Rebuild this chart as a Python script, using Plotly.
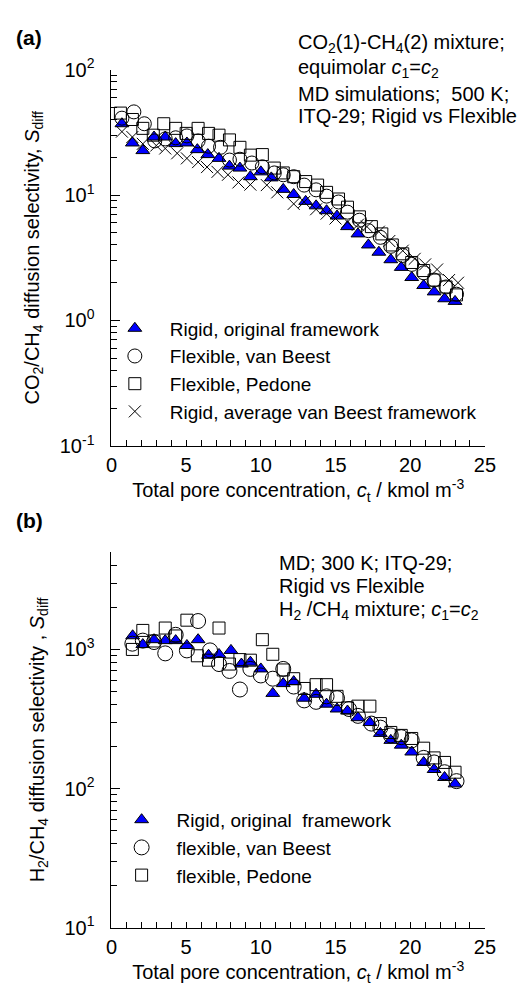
import plotly.graph_objects as go

# ---------------- (a) CO2/CH4, 500 K ----------------
a_tri_x = [0.7, 1.4, 2.1, 2.85, 3.6, 4.3, 5.05, 5.75, 6.45, 7.2, 7.9, 8.6, 9.3, 10.0, 10.7, 11.5,
           12.2, 13.0, 13.7, 14.4, 15.1, 15.8, 16.5, 17.2, 17.9, 18.7, 19.4, 20.1, 20.9, 21.6, 22.3, 23.0]
a_tri_y = [37, 26, 22.6, 29, 29, 25.7, 26, 23, 21, 19.6, 17, 16.4, 14, 15.3, 13.7, 11.1,
           10.1, 8.9, 8.2, 7.5, 6.8, 5.6, 4.9, 4.0, 3.5, 3.05, 2.65, 2.2, 1.9, 1.69, 1.49, 1.42]

a_cir_x = [0.7, 1.5, 2.2, 2.9, 3.6, 4.3, 5.05, 5.8, 6.5, 7.3, 7.9, 8.6, 9.4, 10.1, 10.9, 11.5,
           12.2, 12.9, 13.7, 14.4, 15.2, 15.8, 16.6, 17.2, 18.0, 18.7, 19.5, 20.1, 20.9, 21.6, 22.4, 23.1]
a_cir_y = [41, 46, 37, 27, 28, 28.6, 29.6, 27, 24.5, 24, 19, 19.3, 18, 16.8, 15, 14.5,
           14, 12, 11, 9.8, 8.8, 7.3, 6.3, 5.2, 4.6, 3.9, 3.3, 2.8, 2.4, 2.1, 1.85, 1.62]

a_sq_x = [0.6, 1.4, 2.1, 2.8, 3.5, 4.3, 5.0, 5.8, 6.5, 7.2, 7.9, 8.6, 9.3, 10.1, 10.9, 11.5,
          12.2, 13.0, 13.8, 14.4, 15.2, 15.8, 16.6, 17.4, 18.1, 18.8, 19.5, 20.1, 20.9, 21.6, 22.4, 23.1]
a_sq_y = [45, 40, 34, 30, 37, 34, 31, 34, 31, 30, 27.5, 24, 20.8, 21, 16.4, 15,
          14, 12.8, 12, 10.5, 9.3, 8.0, 6.7, 5.6, 4.9, 4.0, 3.4, 2.9, 2.5, 2.1, 1.85, 1.6]

a_x_x = [0.7, 1.4, 2.1, 3.0, 3.6, 4.4, 5.05, 5.8, 6.4, 7.1, 7.8, 8.5, 9.3, 10.4, 11.1, 12.2,
         12.9, 13.7, 14.4, 15.0, 15.8, 16.5, 17.1, 17.9, 18.6, 19.5, 20.3, 21.0, 21.8, 22.6, 23.2]
a_x_y = [32, 29, 25.6, 24.8, 23.5, 21.5, 19.6, 18.3, 16.7, 15.3, 14.5, 12.6, 12.1, 12, 10.5, 8.5,
         8.8, 7.7, 7.1, 6.5, 6.1, 5.8, 5.6, 5.1, 4.3, 3.6, 3.1, 2.8, 2.55, 2.1, 2.0]

# ---------------- (b) H2/CH4, 300 K ----------------
b_tri_x = [1.42, 2.1, 2.85, 3.6, 4.3, 5.05, 5.8, 6.5, 7.2, 8.0, 8.7, 9.3, 10.0, 10.8, 11.5, 12.2,
           12.9, 13.7, 14.4, 15.1, 15.8, 16.5, 17.3, 18.0, 18.7, 19.4, 20.1, 20.9, 21.6, 22.3, 23.0]
b_tri_y = [1254, 1084, 1175, 1157, 1157, 1067, 1175, 908, 920, 984, 785, 810, 724, 483, 568, 587,
           446, 476, 404, 373, 361, 323, 298, 249, 222, 205, 183, 154, 137, 120, 108]

b_cir_x = [1.4, 2.1, 2.85, 3.6, 4.3, 5.05, 5.8, 6.6, 7.2, 7.9, 8.6, 9.3, 10.0, 10.8, 11.5, 12.2,
           12.9, 13.7, 14.4, 15.1, 15.9, 16.5, 17.4, 18.0, 18.7, 19.4, 20.1, 20.9, 21.6, 22.3, 23.1]
b_cir_y = [1100, 1157, 1130, 937, 1274, 984, 1600, 984, 785, 700, 515, 724, 650, 616, 724, 541,
           430, 420, 460, 446, 373, 333, 293, 274, 241, 234, 222, 166, 154, 131, 113]

b_sq_x = [1.4, 2.1, 2.85, 3.6, 4.3, 5.05, 5.75, 6.5, 7.2, 7.9, 8.6, 9.3, 10.1, 10.8, 11.5, 12.2,
          12.9, 13.7, 14.4, 15.1, 15.8, 16.5, 17.3, 18.0, 18.7, 19.4, 20.1, 20.9, 21.6, 22.3, 23.0]
b_sq_y = [1000, 1370, 1150, 1425, 1250, 1623, 900, 837, 1425, 785, 845, 837, 1175, 923, 712, 616,
          524, 558, 558, 460, 380, 391, 391, 293, 253, 241, 229, 195, 166, 154, 131]

x_ticks = [0, 5, 10, 15, 20, 25]
a_yticks = [0.1, 1, 10, 100]
a_ytext = ["10<sup>-1</sup>", "10<sup>0</sup>", "10<sup>1</sup>", "10<sup>2</sup>"]
b_yticks = [10, 100, 1000]
b_ytext = ["10<sup>1</sup>", "10<sup>2</sup>", "10<sup>3</sup>"]

FONT = "Liberation Sans, Arial, sans-serif"
BLUE = "rgb(0,0,255)"
W, H = 523, 1001
FS = 20   # titles / notes
LFS = 19  # legend

fig = go.Figure()

def add(x, y, name, sym, size, fill, xa, ya, legend, col="black"):
    fig.add_trace(go.Scatter(
        x=x, y=y, name=name, mode="markers", xaxis=xa, yaxis=ya, legend=legend,
        legendgroup=name + legend,
        marker=dict(symbol=sym, size=size, color=fill,
                    line=dict(color=col, width=1)),
    ))

# (a)
add(a_tri_x, a_tri_y, "Rigid, original framework", "triangle-up", 12, BLUE, "x", "y", "legend")
add(a_cir_x, a_cir_y, "Flexible, van Beest", "circle-open", 14, "black", "x", "y", "legend")
add(a_sq_x, a_sq_y, "Flexible, Pedone", "square-open", 12, "black", "x", "y", "legend")
add(a_x_x, a_x_y, "Rigid, average van Beest framework", "x-thin-open", 12, "black", "x", "y", "legend")
# (b)
add(b_tri_x, b_tri_y, "Rigid, original  framework", "triangle-up", 12, BLUE, "x2", "y2", "legend2")
add(b_cir_x, b_cir_y, "flexible, van Beest", "circle-open", 15, "black", "x2", "y2", "legend2")
add(b_sq_x, b_sq_y, "flexible, Pedone", "square-open", 12, "black", "x2", "y2", "legend2")

xl, xr = 109 / W, 495 / W
def py(p):
    return 1 - p / H

xax = dict(range=[0, 25], tickvals=x_ticks, ticks="inside", ticklen=6, tickcolor="black",
           showline=True, linecolor="black", linewidth=1, showgrid=False, zeroline=False,
           minor=dict(dtick=1, ticks="inside", ticklen=6, tickcolor="black", showgrid=False),
           tickfont=dict(size=FS, color="black", family=FONT), domain=[xl, xr],
           ticklabelstandoff=1,
           title=dict(text="Total pore concentration, <i>c</i><sub>t</sub> / kmol m<sup>-3</sup>",
                      font=dict(size=FS, color="black", family=FONT), standoff=6))
yax = dict(type="log", ticks="inside", ticklen=9, tickcolor="black",
           showline=True, linecolor="black", linewidth=1, showgrid=False, zeroline=False,
           minor=dict(dtick="D1", ticks="inside", ticklen=6, tickcolor="black", showgrid=False),
           tickfont=dict(size=FS, color="black", family=FONT), ticklabelstandoff=12)

fig.update_layout(
    width=W, height=H, margin=dict(l=0, r=0, t=0, b=0),
    paper_bgcolor="white", plot_bgcolor="white",
    font=dict(family=FONT, color="black"),
    xaxis=dict(xax, anchor="y"),
    xaxis2=dict(xax, anchor="y2"),
    yaxis=dict(yax, range=[-1, 2], tickvals=a_yticks, ticktext=a_ytext,
               domain=[py(443), py(57)], anchor="x",
               title=dict(text="CO<sub>2</sub>/CH<sub>4</sub> diffusion selectivity, <i>S</i><sub>diff</sub>",
                          font=dict(size=FS, color="black", family=FONT), standoff=14)),
    yaxis2=dict(yax, range=[1, 3.69897], tickvals=b_yticks, ticktext=b_ytext,
                domain=[py(937), py(552)], anchor="x2",
                title=dict(text="H<sub>2</sub>/CH<sub>4</sub> diffusion selectivity , <i>S</i><sub>diff</sub>",
                           font=dict(size=FS, color="black", family=FONT), standoff=14)),
    legend=dict(x=97 / W, y=py(303), xanchor="left", yanchor="top", bgcolor="rgba(0,0,0,0)",
                font=dict(size=LFS, color="black", family=FONT), traceorder="grouped",
                tracegroupgap=0, itemwidth=60),
    legend2=dict(x=104 / W, y=py(807), xanchor="left", yanchor="top", bgcolor="rgba(0,0,0,0)",
                 font=dict(size=LFS, color="black", family=FONT), traceorder="grouped",
                 tracegroupgap=0, itemwidth=60),
    showlegend=True,
)

ann_font = dict(size=FS, color="black", family=FONT)
notes = [
    (300, 30, "CO<sub>2</sub>(1)-CH<sub>4</sub>(2) mixture;"),
    (300, 56, "equimolar <i>c</i><sub>1</sub>=<i>c</i><sub>2</sub>"),
    (300, 82, "MD simulations;  500 K;"),
    (300, 105, "ITQ-29; Rigid vs Flexible"),
    (280, 563, "MD; 300 K; ITQ-29;"),
    (280, 587, "Rigid vs Flexible"),
    (280, 612, "H<sub>2</sub> /CH<sub>4</sub> mixture; <i>c</i><sub>1</sub>=<i>c</i><sub>2</sub>"),
]
for xp, yp, t in notes:
    fig.add_annotation(x=xp / W, y=py(yp), xref="paper", yref="paper", text=t, showarrow=False,
                       xanchor="left", yanchor="middle", font=ann_font)
for yp, t in [(24, "<b>(a)</b>"), (519, "<b>(b)</b>")]:
    fig.add_annotation(x=8 / W, y=py(yp), xref="paper", yref="paper", text=t, showarrow=False,
                       xanchor="left", yanchor="middle", font=dict(size=21, color="black", family=FONT))

fig.write_html("out.html")
